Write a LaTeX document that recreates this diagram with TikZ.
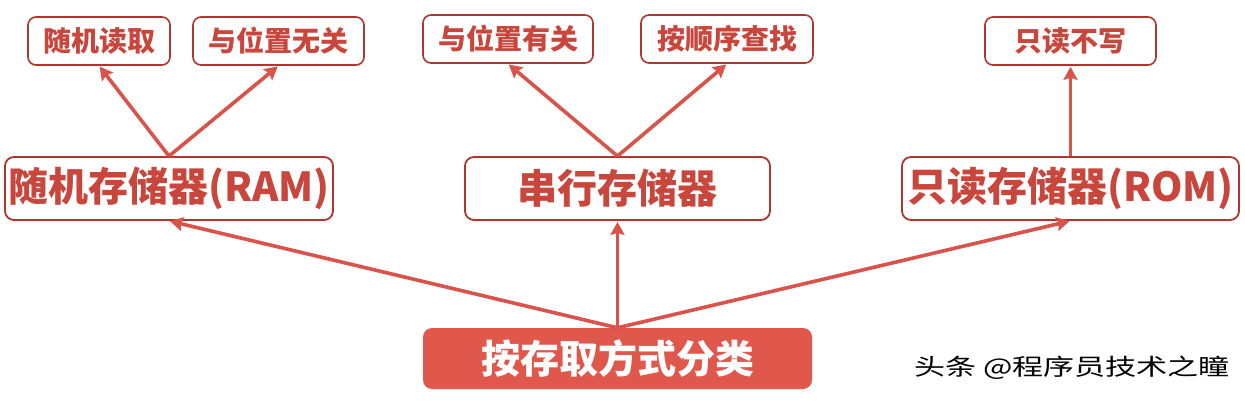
\documentclass[tikz,border=0pt]{standalone}
\usepackage{fontspec}
\setmainfont{Noto Sans CJK SC}
\newfontfamily\wmfont[FakeStretch=1.35]{Noto Sans CJK SC}
\usetikzlibrary{arrows.meta}
\definecolor{txtred}{HTML}{C9463D}
\definecolor{bordred}{HTML}{AE362D}
\definecolor{arrred}{HTML}{D9534A}
\definecolor{fillred}{HTML}{E0574B}
\tikzset{
  leafbox/.style={draw=bordred, line width=1.6pt, rounded corners=8pt, fill=white,
    text=txtred, inner sep=0pt, minimum height=48pt,
    font=\fontsize{28}{28}\selectfont\bfseries},
  midbox/.style={draw=bordred, line width=1.8pt, rounded corners=9pt, fill=white,
    text=txtred, inner sep=0pt, minimum height=63pt,
    font=\fontsize{40}{40}\selectfont\bfseries},
  rootbox/.style={fill=fillred, rounded corners=9pt, text=white, inner sep=0pt,
    minimum height=61pt, minimum width=389pt,
    font=\fontsize{39}{39}\selectfont\bfseries},
  conn/.style={draw=arrred, line width=3.6pt, -{Stealth[length=13pt,width=14pt,inset=2pt]}, shorten >=1pt},
  wmark/.style={text=black, inner sep=0pt, font=\fontsize{23}{23}\wmfont}
}
\begin{document}
\begin{tikzpicture}[x=1pt,y=-1pt]
\useasboundingbox[fill=white] (0,0) rectangle (1245,401);
\node[leafbox, minimum width=142pt] (r1) at (99,41) {随机读取};
\node[leafbox, minimum width=171pt] (r2) at (278.5,41) {与位置无关};
\node[leafbox, minimum width=170pt] (s1) at (508,39) {与位置有关};
\node[leafbox, minimum width=172pt] (s2) at (727,39) {按顺序查找};
\node[leafbox, minimum width=171pt] (o1) at (1070.5,41) {只读不写};
\node[midbox, minimum width=328pt] (ram) at (169,188.5) {随机存储器(RAM)};
\node[midbox, minimum width=305pt] (ser) at (617.5,188.5) {串行存储器};
\node[midbox, minimum width=337pt] (rom) at (1070.5,188.5) {只读存储器(ROM)};
\node[rootbox] (root) at (617.5,358.5) {按存取方式分类};
\node[wmark] (wm) at (1072,368) {头条 @程序员技术之瞳};
\draw[conn] (ram.north) -- (r1.south);
\draw[conn] (ram.north) -- (r2.south);
\draw[conn] (ser.north) -- (s1.south);
\draw[conn] (ser.north) -- (s2.south);
\draw[conn] (rom.north) -- (o1.south);
\draw[conn] (root.north) -- (ram.south);
\draw[conn] (root.north) -- (ser.south);
\draw[conn] (root.north) -- (rom.south);
\end{tikzpicture}
\end{document}
